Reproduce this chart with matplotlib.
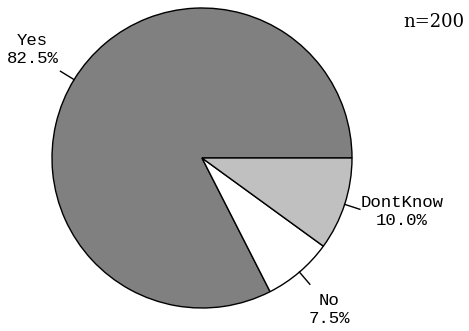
import numpy as np
import matplotlib
matplotlib.use("Agg")
import matplotlib.pyplot as plt

categories = ["Yes", "No", "DontKnow"]
values = [82.5, 7.5, 10.0]
colors = ["#808080", "#ffffff", "#c0c0c0"]
n_label = "n=200"

W, H = 469, 331
fig = plt.figure(figsize=(W / 100, H / 100), dpi=100)
ax = fig.add_axes([0, 0, 1, 1])

cx, cy, R = 202, H - 158, 150
wedges, _ = ax.pie(values, colors=colors, startangle=0, counterclock=True,
                   center=(cx, cy), radius=R, frame=True,
                   wedgeprops=dict(edgecolor="black", linewidth=1.0))
ax.set_xlim(0, W)
ax.set_ylim(0, H)
ax.set_aspect("equal")
ax.axis("off")

font = dict(family="Liberation Mono", fontsize=12.5)
align = {"Yes": ("right", "bottom", 172, 3, 2),
         "No": ("left", "top", 170, -4, -6),
         "DontKnow": ("left", "center", 172, -5, 0)}
for w, cat, val in zip(wedges, categories, values):
    mid = np.deg2rad((w.theta1 + w.theta2) / 2)
    ux, uy = np.cos(mid), np.sin(mid)
    ax.plot([cx + R * ux, cx + (R + 16) * ux], [cy + R * uy, cy + (R + 16) * uy],
            color="black", lw=1.0)
    ha, va, rl, dx, dy = align[cat]
    ax.text(cx + rl * ux + dx, cy + rl * uy + dy, f"{cat}\n{val:.1f}%",
            ha=ha, va=va, multialignment="center", linespacing=1.25, **font)

ax.text(464, H - 22, n_label, ha="right", va="center",
        family="DejaVu Serif", fontsize=13)

fig.savefig("out.png", dpi=100)
